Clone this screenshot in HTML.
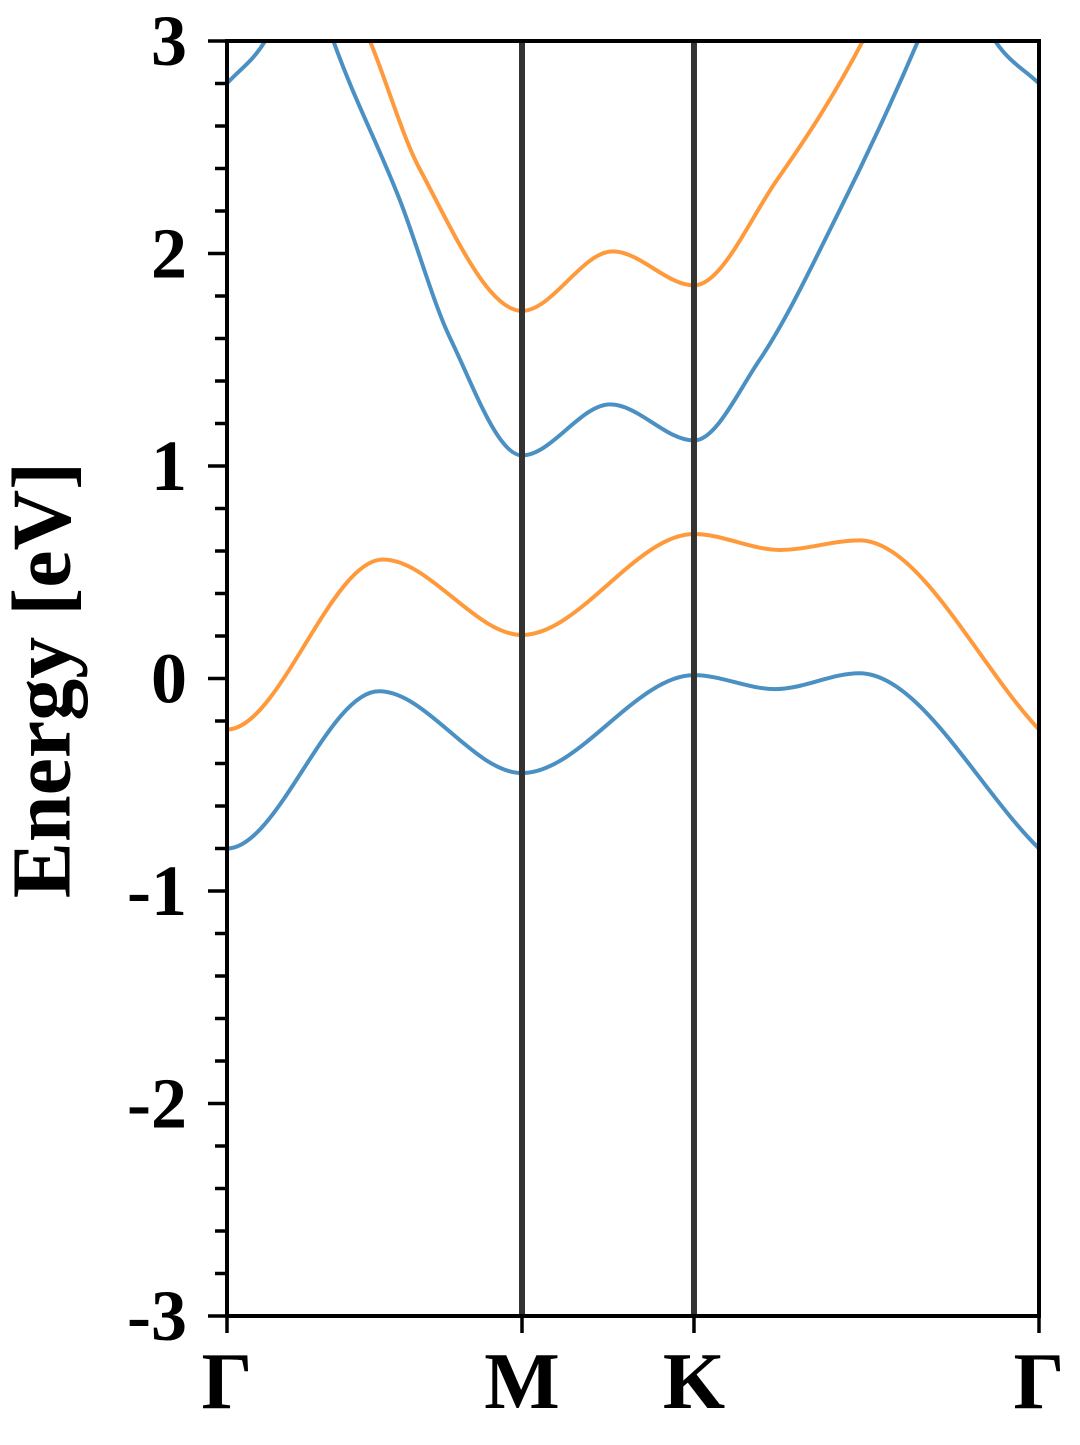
<!DOCTYPE html>
<html><head><meta charset="utf-8"><style>
body{margin:0;background:#fff}
svg text{font-family:"Liberation Serif","Times New Roman",serif;font-weight:bold;fill:#000}
</style></head><body>
<svg width="1080" height="1440" font-family="Liberation Serif, serif">
<defs><clipPath id="pc"><rect x="227" y="41" width="812" height="1275"/></clipPath></defs>
<g id="bands" clip-path="url(#pc)"></g>
<g id="axes"></g>
<text x="78" y="680" font-size="84" font-family="Liberation Serif, serif" font-weight="bold" text-anchor="middle" transform="rotate(-90 50 680) translate(-28 0)" dominant-baseline="middle">Energy [eV]</text>
</svg>
<script>
const ns="http://www.w3.org/2000/svg";
const kLabels=["Γ","M","K","Γ"];
const kPos=[0,0.3633,0.5751,1];
const yTicks=[-3,-2,-1,0,1,2,3];
const yTickLabels=["-3","-2","-1","0","1","2","3"];
// band samples: k (fraction of path), energy (eV)
const b1k=[0,0.187,0.3633,0.5751,0.675,0.779,1];
const b1e=[-0.80,-0.06,-0.445,0.016,-0.05,0.025,-0.80];
const b2k=[0,0.192,0.3633,0.5751,0.681,0.779,1];
const b2e=[-0.24,0.56,0.205,0.68,0.605,0.65,-0.24];
const b3k=[0,0.047,0.09,0.131,0.213,0.275,0.3633,0.472,0.5751,0.656,0.754,0.851,0.903,0.946,1];
const b3e=[2.8,3.0,3.5,3.0,2.25,1.6,1.05,1.29,1.12,1.5,2.2,3.0,3.5,3.0,2.8];
const b4k=[0.13,0.176,0.237,0.3633,0.475,0.5751,0.678,0.783,0.83];
const b4e=[3.4,3.0,2.4,1.73,2.01,1.85,2.35,3.0,3.4];
const X0=227,X1=1039,Y0=1316,Y1=41;
const xs=k=>X0+k*(X1-X0);
const ys=e=>Y0-(e+3)/6*(Y0-Y1);
function el(t,a,p){const e=document.createElementNS(ns,t);for(const k in a)e.setAttribute(k,a[k]);p.appendChild(e);return e;}
function curve(ks,es){const n=ks.length,d=[],m=new Array(n);
for(let i=0;i<n-1;i++)d.push((es[i+1]-es[i])/(ks[i+1]-ks[i]));
m[0]=d[0];m[n-1]=d[n-2];
for(let i=1;i<n-1;i++){if(d[i-1]*d[i]<=0)m[i]=0;else{const h0=ks[i]-ks[i-1],h1=ks[i+1]-ks[i];
m[i]=3*(h0+h1)/((2*h1+h0)/d[i-1]+(h1+2*h0)/d[i]);}}
if(d[0]*(d[1]||d[0])<=0)m[0]=0;
let s="";for(let i=0;i<n-1;i++){const h=ks[i+1]-ks[i];
const p1=[xs(ks[i]),ys(es[i])],p2=[xs(ks[i+1]),ys(es[i+1])];
const c1=[xs(ks[i]+h/3),ys(es[i]+m[i]*h/3)],c2=[xs(ks[i+1]-h/3),ys(es[i+1]-m[i+1]*h/3)];
if(i===0)s+="M"+p1;s+="C"+c1+" "+c2+" "+p2;}return s;}
const bands=document.getElementById("bands"),axes=document.getElementById("axes");
[[b1k,b1e,"#4a90c2","band-1"],[b2k,b2e,"#ff9a3c","band-2"],[b3k,b3e,"#4a90c2","band-3"],[b4k,b4e,"#ff9a3c","band-4"]].forEach(b=>{
const p=el("path",{d:curve(b[0],b[1]),fill:"none",stroke:b[2],"stroke-width":4},bands);

});
kPos.slice(1,3).forEach(k=>{const l=el("line",{x1:xs(k),x2:xs(k),y1:Y1,y2:Y0,stroke:"#333","stroke-width":6},axes);

});
const fr=el("rect",{x:X0,y:Y1,width:X1-X0,height:Y0-Y1,fill:"none",stroke:"#000","stroke-width":4},axes);


for(let v=-3;v<=3.001;v+=0.2){const m=Math.abs(v-Math.round(v))<1e-6;
const t=el("line",{x1:X0-(m?19:12),x2:X0,y1:ys(v),y2:ys(v),stroke:"#000","stroke-width":3.5},axes);

}
yTicks.forEach((v,i)=>{const t=el("text",{x:187,y:ys(v)+24,"font-size":72,"font-family":"Liberation Serif, serif","font-weight":"bold","text-anchor":"end"},axes);t.textContent=yTickLabels[i];

});
kPos.forEach((k,i)=>{const l=el("line",{x1:xs(k),x2:xs(k),y1:Y0,y2:Y0+17,stroke:"#000","stroke-width":3.5},axes);


const t=el("text",{x:xs(k),y:1408,"font-size":80,"font-family":"Liberation Serif, serif","font-weight":"bold","text-anchor":"middle"},axes);t.textContent=kLabels[i];

});
</script>
</body></html>
